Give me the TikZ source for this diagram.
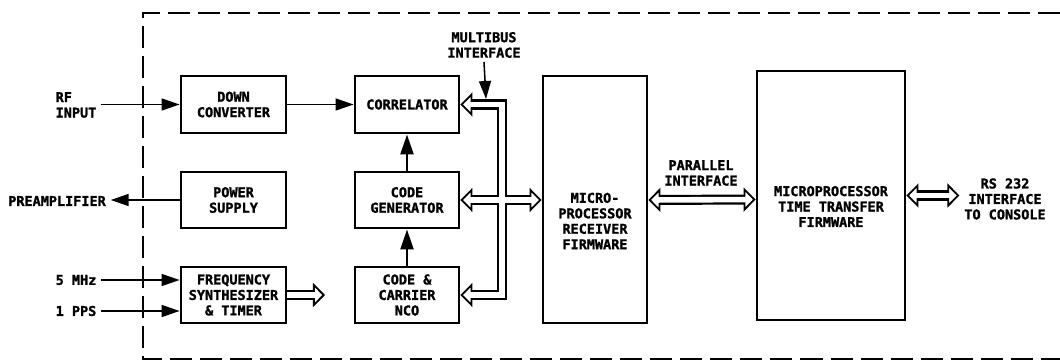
\documentclass[tikz,border=0pt]{standalone}
\usepackage{fontspec}
\setmonofont{DejaVu Sans Mono}[BoldFeatures={FakeBold=1.5}]
\usetikzlibrary{arrows.meta}
\tikzset{bushead/.tip={Triangle[fill=white, line width=1.3pt, length=0.3cm, width=0.6cm]}}
\begin{document}
\begin{tikzpicture}[x=0.025cm, y=-0.025cm,
    font=\ttfamily\bfseries\fontsize{9.6}{11}\selectfont,
    block/.style={rectangle, draw, line width=2pt, align=center, inner sep=0pt},
    sig/.style={line width=1.1pt, -{Triangle[length=0.45cm, width=0.3cm]}},
    feed/.style={line width=2pt, -{Triangle[length=0.5cm, width=0.32cm]}},
    bus/.style={line width=0.25cm, line join=miter},
    busgap/.style={line width=0.14cm, white, line join=miter}]
    \useasboundingbox (0,0) rectangle (1060,361);

    % Unit boundary
    \draw[line width=1.6pt, dash pattern=on 0.55cm off 0.2cm] (1060,13) -- (143,13) -- (143,359) -- (1060,359);

    % Front end
    \node[block, minimum width=2.625cm, minimum height=1.425cm] (down) at (233.5,104.5) {DOWN\\CONVERTER};
    \node[block, minimum width=2.625cm, minimum height=1.4cm] (power) at (233.5,200) {POWER\\SUPPLY};
    \node[block, minimum width=2.625cm, minimum height=1.4cm] (synth) at (233.5,295) {FREQUENCY\\SYNTHESIZER\\\& TIMER};

    % Correlator channel
    \node[block, minimum width=2.6cm, minimum height=1.425cm] (corr) at (407,104.5) {CORRELATOR};
    \node[block, minimum width=2.6cm, minimum height=1.4cm] (codegen) at (407,200) {CODE\\GENERATOR};
    \node[block, minimum width=2.6cm, minimum height=1.4cm] (nco) at (407,295) {CODE \&\\CARRIER\\NCO};

    % Processors
    \node[block, minimum width=2.6cm, minimum height=6.175cm] (rcvr) at (595,199.5) {};
    \node[align=center] (rcvrtext) at (595,221) {MICRO-\\PROCESSOR\\RECEIVER\\FIRMWARE};
    \node[block, minimum width=3.7cm, minimum height=6.225cm] (ttf) at (831,195.5) {};
    \node[align=center] (ttftext) at (831,206.5) {MICROPROCESSOR\\TIME TRANSFER\\FIRMWARE};

    % Outside labels
    \node[align=left] (rfin) at (76,105) {RF\\INPUT};
    \node (pre) at (57,201) {PREAMPLIFIER};
    \node (mhz) at (76,280) {5 MHz};
    \node (pps) at (76,311) {1 PPS};
    \node[align=center] (mb) at (484,45) {MULTIBUS\\INTERFACE};
    \node[align=center] (par) at (701,173) {PARALLEL\\INTERFACE};
    \node[align=center] (rs) at (1005,199) {RS 232\\INTERFACE\\TO CONSOLE};

    \coordinate (bus) at (502,200);
    \coordinate (synthout) at (325,295);
    \coordinate (mbend) at (486,99);

    % Signals
    \draw[sig] (rfin.east |- down.west) -- (down.west);
    \draw[sig] (down) -- (corr);
    \draw[sig] (power.west) -- (power.west -| pre.east);
    \draw[sig] (mhz.east) -- (mhz.east -| synth.west);
    \draw[sig] (pps.east) -- (pps.east -| synth.west);
    \draw[feed] (codegen) -- (corr);
    \draw[feed] (nco) -- (codegen);
    \draw[sig] (mb.south |- mbend) ++(0,-37) -- (mbend);

    % Buses, outline first then the white gap
    \draw[bus, {bushead}-{bushead}] (corr.east) -| (bus) |- (nco.east);
    \draw[bus, {bushead}-{bushead}] (codegen.east) -- (codegen.east -| rcvr.west);
    \draw[bus, {bushead}-{bushead}] (rcvr.east |- bus) -- (rcvr.east -| ttf.west);
    \draw[bus, {bushead}-{bushead}] (ttf.east) -- (ttf.east -| rs.west);
    \draw[bus, -{bushead}] (synth.east) -- (synthout);
    \draw[busgap, shorten <=0.18cm, shorten >=0.18cm] (corr.east) -| (bus) |- (nco.east);
    \draw[busgap, shorten <=0.18cm, shorten >=0.18cm] (codegen.east) -- (codegen.east -| rcvr.west);
    \draw[busgap, shorten <=0.18cm, shorten >=0.18cm] (rcvr.east |- bus) -- (rcvr.east -| ttf.west);
    \draw[busgap, shorten <=0.18cm, shorten >=0.18cm] (ttf.east) -- (ttf.east -| rs.west);
    \draw[busgap, shorten >=0.18cm] (synth.east) -- (synthout);
\end{tikzpicture}
\end{document}
